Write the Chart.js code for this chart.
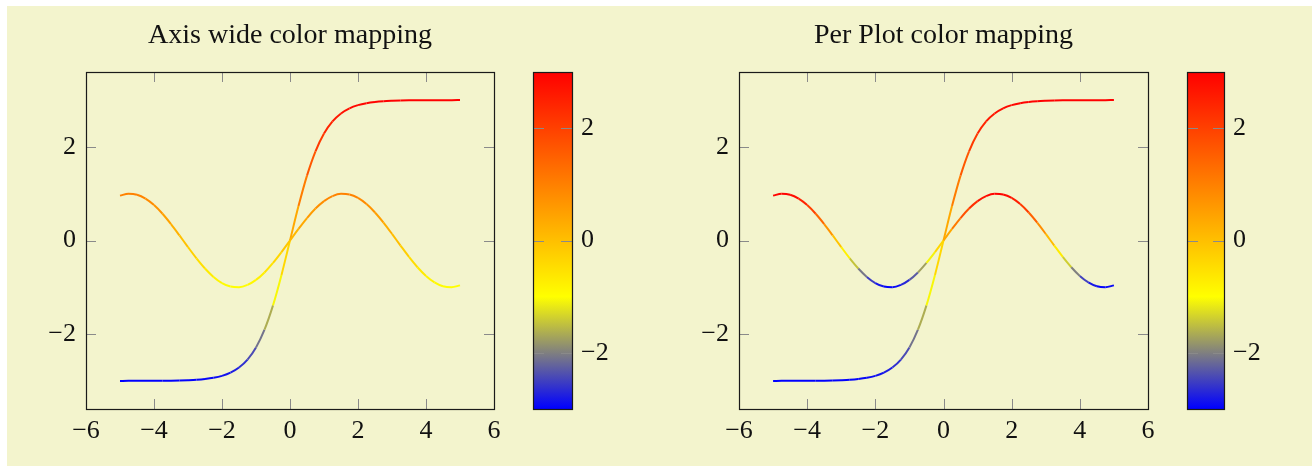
<!DOCTYPE html>
<html>
<head>
<meta charset="utf-8">
<script src="https://cdn.jsdelivr.net/npm/chart.js@4.4.1/dist/chart.umd.min.js"></script>
<style>
  html, body { margin: 0; padding: 0; background: #ffffff; }
  body { width: 1315px; height: 466px; position: relative; overflow: hidden; }
  #bg { position: absolute; left: 7px; top: 6px; width: 1305px; height: 460px; background: rgb(243,244,205); }
  canvas { position: absolute; left: 0; top: 0; }
</style>
</head>
<body>
<div id="bg"></div>
<canvas id="leftPlot" width="1315" height="466"></canvas>
<canvas id="leftBar" width="1315" height="466"></canvas>
<canvas id="rightPlot" width="1315" height="466"></canvas>
<canvas id="rightBar" width="1315" height="466"></canvas>
<script>
// ---------- data ----------
const titles = ['Axis wide color mapping', 'Per Plot color mapping'];
const xTicks = [-6, -4, -2, 0, 2, 4, 6];
const yTicks = [-2, 0, 2];
const barTicks = [-2, 0, 2];
const xRange = [-6, 6];
const yRange = [-3.6, 3.6];
const barRange = [-3, 3];

const xValues = [-5, -4.75, -4.5, -4.25, -4, -3.75, -3.5, -3.25, -3, -2.75, -2.5, -2.25, -2, -1.75, -1.5, -1.25, -1, -0.75, -0.5, -0.25,
  0, 0.25, 0.5, 0.75, 1, 1.25, 1.5, 1.75, 2, 2.25, 2.5, 2.75, 3, 3.25, 3.5, 3.75, 4, 4.25, 4.5, 4.75, 5];
const waveValues = [0.959, 0.999, 0.978, 0.895, 0.757, 0.572, 0.351, 0.108, -0.141, -0.382, -0.599, -0.778, -0.909, -0.984, -0.998, -0.949, -0.842, -0.682, -0.479, -0.247,
  0, 0.247, 0.479, 0.682, 0.842, 0.949, 0.998, 0.984, 0.909, 0.778, 0.599, 0.382, 0.141, -0.108, -0.351, -0.572, -0.757, -0.895, -0.978, -0.999, -0.959];
const stepValues = [-3.0, -2.999, -2.999, -2.999, -2.998, -2.997, -2.995, -2.991, -2.985, -2.976, -2.960, -2.934, -2.892, -2.824, -2.715, -2.545, -2.285, -1.905, -1.386, -0.735,
  0, 0.735, 1.386, 1.905, 2.285, 2.545, 2.715, 2.824, 2.892, 2.934, 2.960, 2.976, 2.985, 2.991, 2.995, 2.997, 2.998, 2.999, 2.999, 2.999, 3.0];

// colormap "hot": blue, yellow, orange, red
const cmapStops = [0, 1/3, 2/3, 1];
const cmapColors = [[0, 0, 255], [255, 255, 0], [255, 128, 0], [255, 0, 0]];

// ---------- helpers ----------
const FONT = "'Liberation Serif', 'DejaVu Serif', serif";
function mapColor(t) {
  t = Math.max(0, Math.min(1, t));
  for (let i = 0; i < cmapStops.length - 1; i++) {
    if (t <= cmapStops[i + 1]) {
      const f = (t - cmapStops[i]) / (cmapStops[i + 1] - cmapStops[i]);
      const a = cmapColors[i], b = cmapColors[i + 1];
      return 'rgb(' + [0, 1, 2].map(k => Math.round(a[k] + (b[k] - a[k]) * f)).join(',') + ')';
    }
  }
  const c = cmapColors[cmapColors.length - 1];
  return 'rgb(' + c.join(',') + ')';
}
function fmt(v) { return v < 0 ? '\u2212' + Math.abs(v) : String(v); }

const frameTicks = {
  id: 'frameTicks',
  beforeDatasetsDraw(chart, args, opts) {
    const { ctx, chartArea: a, scales } = chart;
    const L = 10;
    ctx.save();
    ctx.strokeStyle = '#8a8a8a';
    ctx.lineWidth = 1;
    ctx.beginPath();
    if (opts.xTicks) {
      opts.xTicks.forEach(v => {
        const px = Math.round(scales.x.getPixelForValue(v)) + 0.5;
        if (px <= a.left + 1 || px >= a.right - 1) return;
        ctx.moveTo(px, a.bottom); ctx.lineTo(px, a.bottom - L);
        ctx.moveTo(px, a.top); ctx.lineTo(px, a.top + L);
      });
    }
    if (opts.yTicks && !opts.ticksOnTop) {
      opts.yTicks.forEach(v => {
        const py = Math.round(scales.y.getPixelForValue(v)) + 0.5;
        ctx.moveTo(a.left, py); ctx.lineTo(a.left + L, py);
        ctx.moveTo(a.right, py); ctx.lineTo(a.right - L, py);
      });
    }
    ctx.stroke();
    ctx.restore();
  },
  afterDatasetsDraw(chart, args, opts) {
    const { ctx, chartArea: a, scales } = chart;
    ctx.save();
    if (opts.yTicks && opts.ticksOnTop) {
      const L = 11;
      ctx.strokeStyle = '#8a8a8a';
      ctx.lineWidth = 1;
      ctx.beginPath();
      opts.yTicks.forEach(v => {
        const py = Math.round(scales.y.getPixelForValue(v)) + 0.5;
        ctx.moveTo(a.left, py); ctx.lineTo(a.left + L, py);
        ctx.moveTo(a.right, py); ctx.lineTo(a.right - L, py);
      });
      ctx.stroke();
    }
    ctx.strokeStyle = '#1a1a1a';
    ctx.lineWidth = 1.2;
    ctx.strokeRect(Math.round(a.left) + 0.5, Math.round(a.top) + 0.5, Math.round(a.right - a.left), Math.round(a.bottom - a.top));
    ctx.restore();
  }
};

function makePlot(id, title, left, right, perPlot) {
  const series = [waveValues, stepValues];
  const datasets = series.map(vals => {
    const lo = perPlot ? Math.min(...vals) : barRange[0];
    const hi = perPlot ? Math.max(...vals) : barRange[1];
    return {
      data: xValues.map((x, i) => ({ x: x, y: vals[i] })),
      borderWidth: 2,
      pointRadius: 0,
      fill: false,
      cubicInterpolationMode: 'monotone',
      borderColor: mapColor(0.5),
      segment: {
        borderColor: c => mapColor(((c.p0.parsed.y + c.p1.parsed.y) / 2 - lo) / (hi - lo))
      }
    };
  });
  return new Chart(document.getElementById(id), {
    type: 'line',
    data: { datasets },
    plugins: [frameTicks],
    options: {
      responsive: false,
      animation: false,
      layout: { padding: { left: left - 60, right: 1315 - right - 60, top: 0, bottom: 0 } },
      plugins: {
        legend: { display: false },
        tooltip: { enabled: false },
        title: {
          display: true, text: title, color: '#111',
          font: { family: FONT, size: 28, weight: 'normal', lineHeight: 1.2 },
          padding: { top: 19, bottom: 19.4 }
        },
        frameTicks: { xTicks: xTicks, yTicks: yTicks }
      },
      scales: {
        x: {
          type: 'linear', min: xRange[0], max: xRange[1],
          afterBuildTicks: s => { s.ticks = xTicks.map(v => ({ value: v })); },
          afterFit: s => { s.height = 57; },
          grid: { display: false, drawTicks: false },
          border: { display: false },
          ticks: { color: '#111', font: { family: FONT, size: 26 }, padding: 7, maxRotation: 0, autoSkip: false, callback: fmt }
        },
        y: {
          type: 'linear', min: yRange[0], max: yRange[1],
          afterBuildTicks: s => { s.ticks = yTicks.map(v => ({ value: v })); },
          afterFit: s => { s.width = 60; },
          grid: { display: false, drawTicks: false },
          border: { display: false },
          ticks: { color: '#111', font: { family: FONT, size: 26 }, padding: 10, autoSkip: false, callback: fmt }
        },
        yMirror: {
          type: 'linear', position: 'right', min: yRange[0], max: yRange[1],
          afterFit: s => { s.width = 60; },
          grid: { display: false, drawTicks: false },
          border: { display: false },
          ticks: { display: false }
        }
      }
    }
  });
}

function makeBar(id, left, right) {
  return new Chart(document.getElementById(id), {
    type: 'bar',
    data: {
      labels: [''],
      datasets: [{
        data: [barRange],
        barPercentage: 1,
        categoryPercentage: 1,
        borderWidth: 0,
        backgroundColor: c => {
          const chart = c.chart;
          if (!chart.chartArea) return mapColor(0.5);
          const y = chart.scales.y;
          const g = chart.ctx.createLinearGradient(0, y.getPixelForValue(barRange[0]), 0, y.getPixelForValue(barRange[1]));
          cmapStops.forEach((s, i) => g.addColorStop(s, 'rgb(' + cmapColors[i].join(',') + ')'));
          return g;
        }
      }]
    },
    plugins: [frameTicks],
    options: {
      responsive: false,
      animation: false,
      layout: { padding: { left: left, right: 1315 - right - 60, top: 72, bottom: 57 } },
      plugins: {
        legend: { display: false },
        tooltip: { enabled: false },
        frameTicks: { yTicks: barTicks, ticksOnTop: true }
      },
      scales: {
        x: { display: false, offset: true },
        y: {
          position: 'right', min: barRange[0], max: barRange[1],
          afterBuildTicks: s => { s.ticks = barTicks.map(v => ({ value: v })); },
          afterFit: s => { s.width = 60; },
          grid: { display: false, drawTicks: false },
          border: { display: false },
          ticks: { color: '#111', font: { family: FONT, size: 26 }, padding: 9, autoSkip: false, callback: fmt }
        }
      }
    }
  });
}

makePlot('leftPlot', titles[0], 86, 494, false);
makeBar('leftBar', 533, 572);
makePlot('rightPlot', titles[1], 739, 1148, true);
makeBar('rightBar', 1187, 1224);
</script>
</body>
</html>
